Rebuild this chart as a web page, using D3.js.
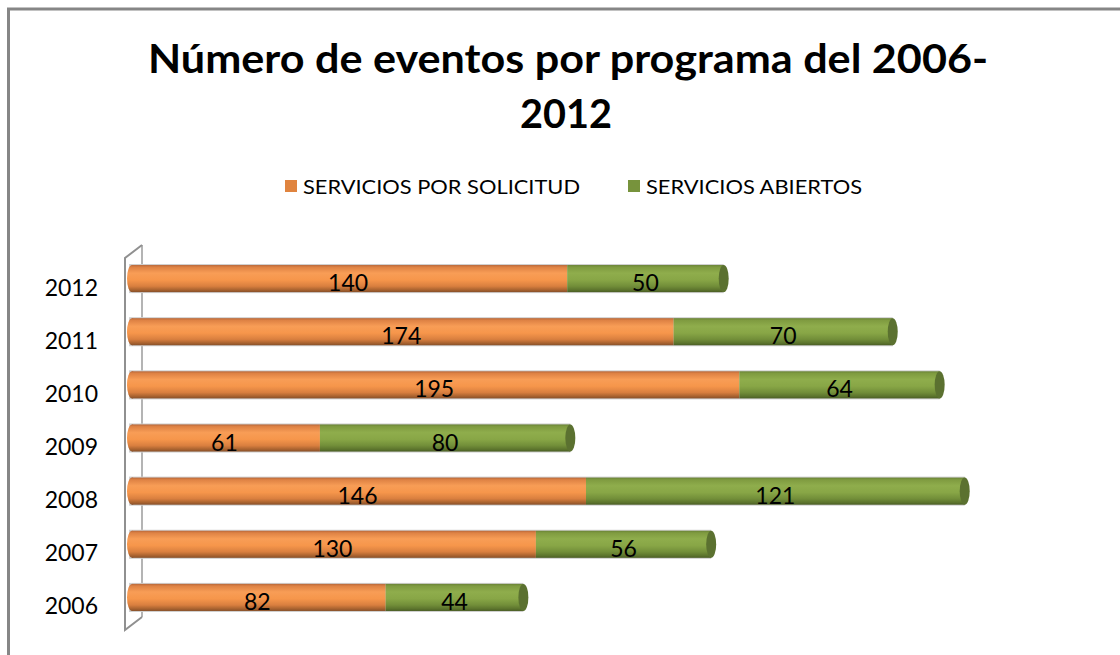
<!DOCTYPE html>
<html>
<head>
<meta charset="utf-8">
<script src="https://cdn.jsdelivr.net/npm/d3@7"></script>
<style>
  html, body { margin: 0; padding: 0; background: #fff; }
  svg { display: block; }
</style>
</head>
<body>
<svg id="chart" width="1120" height="655"></svg>
<script>
const years = ["2012", "2011", "2010", "2009", "2008", "2007", "2006"];
const porSolicitud = [140, 174, 195, 61, 146, 130, 82];
const abiertos = [50, 70, 64, 80, 121, 56, 44];
const seriesNames = ["SERVICIOS POR SOLICITUD", "SERVICIOS ABIERTOS"];
const titleLines = ["Número de eventos por programa del 2006-", "2012"];

const svg = d3.select("#chart");
const defs = svg.append("defs");

function cylGrad(id, stops) {
  const g = defs.append("linearGradient").attr("id", id)
    .attr("x1", 0).attr("y1", 0).attr("x2", 0).attr("y2", 1);
  stops.forEach(s => g.append("stop").attr("offset", s[0]).attr("stop-color", s[1]));
}
cylGrad("gOrange", [[0, "#b8683a"], [0.08, "#de8244"], [0.3, "#f89d56"], [0.55, "#f6964b"], [0.78, "#d97f3f"], [0.92, "#a8622f"], [1, "#87502a"]]);
cylGrad("gGreen", [[0, "#6a8336"], [0.08, "#7f9b40"], [0.3, "#8fad4c"], [0.55, "#88a646"], [0.78, "#728e39"], [0.92, "#5c742d"], [1, "#4a5d24"]]);

// frame
svg.append("path").attr("d", "M8.5,655 L8.5,9 L1120,9")
  .attr("fill", "none").attr("stroke", "#868686").attr("stroke-width", 3);

// title
const title = svg.append("g");
title.append("text").attr("x", 568).attr("y", 73).attr("text-anchor", "middle")
  .attr("font-family", "Lato, 'Open Sans', sans-serif").attr("font-weight", "bold")
  .attr("font-size", 40).attr("fill", "#000")
  .attr("textLength", 840).attr("lengthAdjust", "spacingAndGlyphs")
  .text(titleLines[0]);
title.append("text").attr("x", 566).attr("y", 128).attr("text-anchor", "middle")
  .attr("font-family", "Lato, 'Open Sans', sans-serif").attr("font-weight", "bold")
  .attr("font-size", 40).attr("fill", "#000")
  .attr("textLength", 92).attr("lengthAdjust", "spacingAndGlyphs")
  .text(titleLines[1]);

// legend
const legendColors = ["#e0843f", "#77933c"];
const legendX = [285, 628];
const legendW = [277, 216];
seriesNames.forEach((n, i) => {
  svg.append("rect").attr("x", legendX[i]).attr("y", 180).attr("width", 12).attr("height", 12)
    .attr("fill", legendColors[i]);
  svg.append("text").attr("x", legendX[i] + 18).attr("y", 193.5)
    .attr("font-family", "Lato, 'Open Sans', sans-serif").attr("font-size", 20)
    .attr("fill", "#000").attr("textLength", legendW[i]).attr("lengthAdjust", "spacingAndGlyphs")
    .text(n);
});

// scales
const x = d3.scaleLinear().domain([0, 300]).range([129, 1068]);
const y = d3.scaleBand().domain(years).range([252, 624]).paddingInner(0.49).paddingOuter(0.245);

// 3D wall (left)
const depth = 17, rise = 13;
const wallTop = y.range()[0] + 6, wallBot = y.range()[1] + 6;
svg.append("path")
  .attr("d", `M${x(0) - 4 + depth},${wallTop - rise} L${x(0) - 4 + depth},${wallBot - rise}`)
  .attr("stroke", "#b4b4b4").attr("stroke-width", 2).attr("fill", "none");
svg.append("path")
  .attr("d", `M${x(0) - 4 + depth},${wallTop - rise} L${x(0) - 4},${wallTop} L${x(0) - 4},${wallBot} L${x(0) - 4 + depth},${wallBot - rise}`)
  .attr("stroke", "#909090").attr("stroke-width", 2).attr("fill", "none");

// bars
const rows = years.map((yr, i) => ({ yr, a: porSolicitud[i], b: abiertos[i] }));
const bh = y.bandwidth();
const capR = 5;

rows.forEach(d => {
  const y0 = y(d.yr);
  const xa0 = x(0), xa1 = x(d.a), xb1 = x(d.a + d.b);
  const g = svg.append("g");
  g.append("rect").attr("x", xa0).attr("y", y0 - 1).attr("width", xb1 - xa0).attr("height", bh + 2)
    .attr("fill", "#d0d0d0");
  g.append("ellipse").attr("cx", xa0 + capR - 2).attr("cy", y0 + bh / 2).attr("rx", capR).attr("ry", bh / 2)
    .attr("fill", "url(#gOrange)");
  g.append("rect").attr("x", xa0 + capR - 2).attr("y", y0).attr("width", xa1 - xa0 - capR + 2).attr("height", bh)
    .attr("fill", "url(#gOrange)");
  g.append("rect").attr("x", xa1).attr("y", y0).attr("width", xb1 - xa1).attr("height", bh)
    .attr("fill", "url(#gGreen)");
  g.append("ellipse").attr("cx", xb1).attr("cy", y0 + bh / 2).attr("rx", capR).attr("ry", bh / 2)
    .attr("fill", "#5b7130");
  [[ (xa0 + xa1) / 2, d.a ], [ (xa1 + xb1) / 2, d.b ]].forEach(l => {
    g.append("text").attr("x", l[0]).attr("y", y0 + bh - 1).attr("text-anchor", "middle")
      .attr("font-family", "Lato, 'Open Sans', sans-serif").attr("font-size", 23)
      .attr("fill", "#000").text(l[1]);
  });
});

// year labels
years.forEach(yr => {
  svg.append("text").attr("x", 98).attr("y", y(yr) + bh / 2 + 17).attr("text-anchor", "end")
    .attr("font-family", "Lato, 'Open Sans', sans-serif").attr("font-size", 23)
    .attr("fill", "#000").text(yr);
});
</script>
</body>
</html>
